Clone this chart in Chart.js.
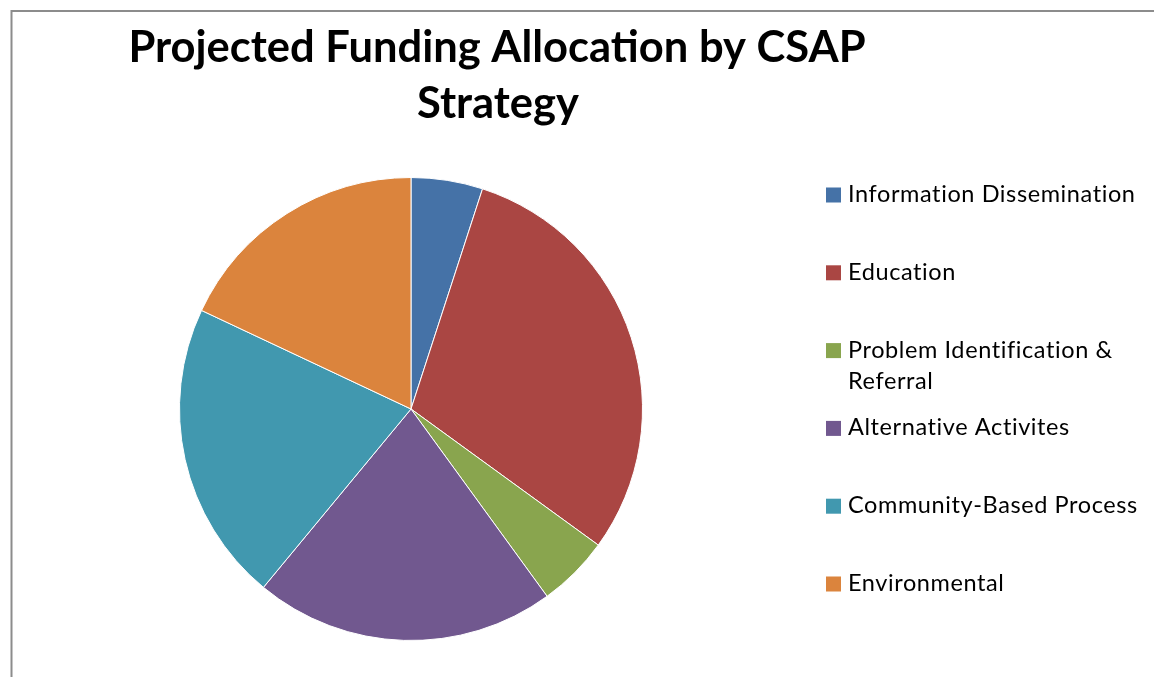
<!DOCTYPE html>
<html>
<head>
<meta charset="utf-8">
<script src="https://cdn.jsdelivr.net/npm/chart.js@4/dist/chart.umd.min.js"></script>
<style>
html,body{margin:0;padding:0;background:#fff;overflow:hidden;}
#wrap{width:1154px;height:677px;position:relative;}
</style>
</head>
<body>
<div id="wrap"><canvas id="c" width="1154" height="677"></canvas></div>
<script>
const titleLines = ["Projected Funding Allocation by CSAP", "Strategy"];
const categories = ["Information Dissemination", "Education", "Problem Identification & Referral", "Alternative Activites", "Community-Based Process", "Environmental"];
const values = [5, 30, 5, 21, 21, 18];
const colors = ["#4572A7", "#AA4643", "#89A54E", "#71588F", "#4198AF", "#DB843D"];

const FONT = "Lato, 'Open Sans', sans-serif";

const decor = {
  id: 'decor',
  afterDraw(chart) {
    const ctx = chart.ctx;
    ctx.save();
    // frame
    ctx.strokeStyle = '#8c8c8c';
    ctx.lineWidth = 2;
    ctx.beginPath();
    ctx.moveTo(11.5, 677);
    ctx.lineTo(11.5, 11);
    ctx.lineTo(1160, 11);
    ctx.stroke();
    // title
    ctx.fillStyle = '#000';
    ctx.textAlign = 'center';
    ctx.textBaseline = 'middle';
    ctx.font = "bold 43.5px " + FONT;
    ctx.fillText(titleLines[0], 497, 48);
    ctx.fillText(titleLines[1], 498, 104);
    // legend
    const labels = chart.data.labels;
    const bg = chart.data.datasets[0].backgroundColor;
    ctx.textAlign = 'left';
    ctx.font = "23.5px " + FONT;
    try { ctx.letterSpacing = '0.6px'; } catch (e) {}
    const maxW = 300;
    labels.forEach((lab, i) => {
      const cy = 194.5 + i * 77.8;
      ctx.fillStyle = bg[i];
      ctx.fillRect(826, cy - 7, 15, 15);
      ctx.fillStyle = '#000';
      const words = lab.split(' ');
      const lines = [];
      let cur = '';
      words.forEach(w => {
        const t = cur ? cur + ' ' + w : w;
        if (ctx.measureText(t).width > maxW && cur) { lines.push(cur); cur = w; }
        else cur = t;
      });
      lines.push(cur);
      lines.forEach((ln, k) => ctx.fillText(ln, 848, cy + k * 31));
    });
    ctx.restore();
  }
};

new Chart(document.getElementById('c'), {
  type: 'pie',
  data: {
    labels: categories,
    datasets: [{
      data: values,
      backgroundColor: colors,
      borderColor: '#ffffff',
      borderWidth: 1
    }]
  },
  options: {
    responsive: false,
    animation: false,
    layout: { padding: { left: 179, right: 511, top: 177, bottom: 36 } },
    plugins: {
      legend: { display: false },
      title: { display: false },
      tooltip: { enabled: false }
    }
  },
  plugins: [decor]
});
</script>
</body>
</html>
